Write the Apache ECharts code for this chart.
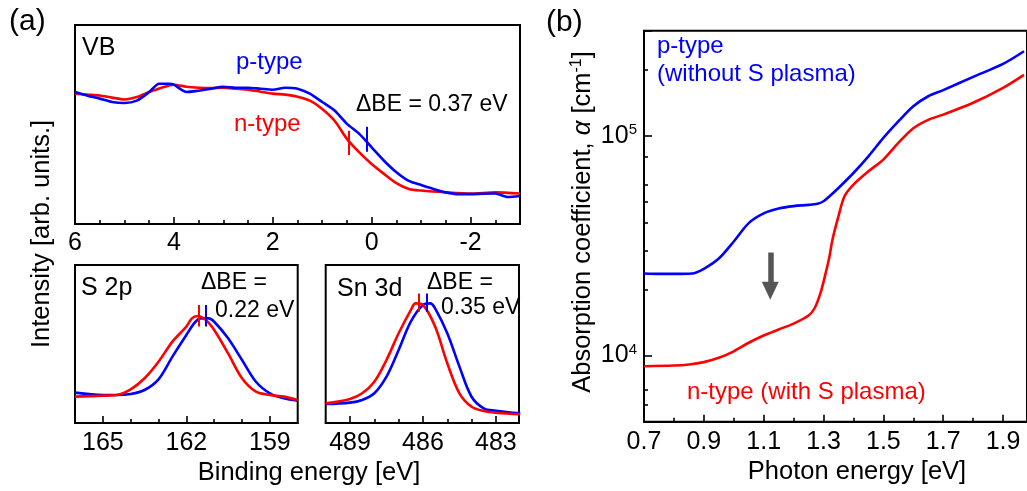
<!DOCTYPE html>
<html><head><meta charset="utf-8">
<script src="https://cdn.jsdelivr.net/npm/echarts@6/dist/echarts.min.js"></script>
<style>html,body{margin:0;padding:0;background:#fff}#c{width:1027px;height:491px}</style>
</head><body><div id="c"></div>
<script>
// ---------- DATA ----------
// (a) VB spectra: binding energy [eV] vs intensity [arb.]
const vbBlueX = [6,5.75,5.5,5.25,5,4.75,4.5,4.3,4.1,4.0,3.85,3.75,3.5,3.25,3.0,2.75,2.5,2.25,2.0,1.75,1.5,1.25,1.0,0.75,0.5,0.25,0,-0.25,-0.5,-0.75,-1.0,-1.25,-1.5,-1.75,-2,-2.25,-2.5,-2.75,-3];
const vbBlueY = [66.3,64.5,63,61.3,60.8,62,66.3,70.5,70.5,70,67.5,66.3,67,68,69,68.5,68.5,68,67.5,68.5,68,65.5,61.3,57,50.3,45.3,38.5,31.8,26,21.7,19.6,17.6,15.9,15,15,15.2,15.3,13.6,14.1];
const vbRedX = [6,5.75,5.5,5.25,5,4.75,4.5,4.25,4.0,3.75,3.5,3.25,3.0,2.75,2.5,2.25,2.0,1.75,1.5,1.25,1.0,0.75,0.5,0.25,0,-0.25,-0.5,-0.75,-1.0,-1.5,-2,-2.5,-3];
const vbRedY = [65.5,65,64.6,63.5,62.6,63.8,66.3,68.5,70,69,68.5,68.3,68.5,68,67.5,66.5,65.5,65,64,62,57.8,51.9,42.8,36,30.2,25.2,20.5,17.6,16.8,15.9,15.3,15.9,15.3];
const vbMarkRed = {x: 0.47, y: [34.7, 46.9]};
const vbMarkBlue = {x: 0.09, y: [36.3, 48.9]};

// S 2p
const s2pBlueX = [166,165,164.5,164,163.5,163,162.5,162,161.7,161.5,161.2,161,160.5,160,159.5,159,158.5,158];
const s2pBlueY = [19.2,17.7,17.7,18.4,20.9,27.6,42,55.7,63.5,66.2,66.2,64.1,53.6,39.9,26.1,18.8,15.6,14.1];
const s2pRedX = [166,165,164.5,164,163.5,163,162.5,162,161.8,161.6,161.3,161,160.5,160,159.5,159,158.5,158];
const s2pRedY = [16.7,17.3,17.7,21.3,28.3,38.8,51.5,61,66.2,67.7,65.2,58.9,44.1,28.3,19.8,17.7,16.7,14.6];
const s2pMarkRed = {x: 161.54, y: [61, 74.7]};
const s2pMarkBlue = {x: 161.32, y: [61, 74.7]};

// Sn 3d
const snBlueX = [490,489,488.5,488,487.5,487,486.5,486,485.7,485.5,485,484.5,484,483.5,483,482];
const snBlueY = [12,12.9,14.6,18.8,29.3,46.2,64.1,74.7,75.7,72.6,56.8,35.7,16.6,9.3,7.8,6.1];
const snRedX = [490,489,488.5,488,487.5,487,486.5,486.3,486,485.5,485,484.5,484,483.5,483,482];
const snRedY = [12.4,15.2,18.8,26.1,39.9,56.8,71.5,75.7,74.7,61,37.8,18.8,10.3,7.6,6.5,5.5];
const snMarkRed = {x: 486.17, y: [70.4, 82]};
const snMarkBlue = {x: 485.85, y: [70.4, 82]};

// (b) absorption coefficient
const absBlueX = [0.7,0.75,0.8,0.86,0.9,0.95,1.0,1.05,1.1,1.15,1.2,1.25,1.28,1.3,1.32,1.35,1.4,1.45,1.5,1.55,1.6,1.65,1.7,1.8,1.9,1.97];
const absBlueY = [23600,23500,23500,23600,24800,27600,33000,40000,44300,46600,47800,48400,49000,50300,53000,57800,67600,80500,97600,116000,136000,151000,161000,185000,212000,242000];
const absRedX = [0.7,0.8,0.85,0.9,0.95,1.0,1.05,1.1,1.15,1.2,1.25,1.27,1.29,1.31,1.32,1.33,1.35,1.37,1.4,1.45,1.5,1.55,1.6,1.65,1.7,1.8,1.9,1.97];
const absRedY = [8940,9000,9100,9330,9760,10450,11430,12330,13130,13970,15200,16400,19270,24600,28300,33700,43000,53000,59900,68800,77800,92600,108000,118000,124600,141000,165000,189000];
const arrow = {x: 1.122, from: 29400, to: 19700};

// tick values
const vbMajor = [6,4,2,0,-2];
const vbMinor = [5.5,5,4.5,3.5,3,2.5,1.5,1,0.5,-0.5,-1,-1.5,-2.5];
const s2pMajor = [165,162,159];
const s2pMinor = [164,163,161,160];
const snMajor = [489,486,483];
const snMinor = [488,487,485,484];
const absXMajor = [0.7,0.9,1.1,1.3,1.5,1.7,1.9];
const absXMinor = [0.8,1.0,1.2,1.4,1.6,1.8];
const absYMinor = [6000,7000,9000,20000,30000,40000,50000,60000,80000,200000];

// ---------- CHART ----------
const FONT = "'Liberation Sans', Arial, sans-serif";
const BLUE = '#0000ff', RED = '#ff0000';
const TICK_FS = 25;
const zip = (xs, ys) => xs.map((x, i) => [x, ys[i]]);

function majorX(gi, min, max, inverse, ticks, margin) {
  return {type:'value', gridIndex:gi, position:'bottom', min, max, inverse,
    axisLine:{show:true, onZero:false, lineStyle:{color:'#000', width:2}},
    axisTick:{show:true, inside:true, length:7, customValues:ticks, lineStyle:{color:'#000', width:1.6}},
    axisLabel:{show:true, customValues:ticks, margin, fontSize:TICK_FS, color:'#000', fontFamily:FONT},
    splitLine:{show:false}};
}
function minorX(gi, min, max, inverse, ticks) {
  return {type:'value', gridIndex:gi, position:'bottom', min, max, inverse,
    axisLine:{show:false, onZero:false},
    axisTick:{show:true, inside:true, length:4, customValues:ticks, lineStyle:{color:'#000', width:1.6}},
    axisLabel:{show:false}, splitLine:{show:false}};
}
function hiddenY(gi) {
  return {type:'value', gridIndex:gi, min:0, max:100, position:'left',
    axisLine:{show:false}, axisTick:{show:false}, axisLabel:{show:false}, splitLine:{show:false}};
}
function curve(name, xi, yi, data, color, smooth) {
  return {name, type:'line', xAxisIndex:xi, yAxisIndex:yi, data, showSymbol:false, symbol:'none',
    smooth: smooth, lineStyle:{color, width:2.6}, itemStyle:{color}, z:3};
}
function marker(m, color) {
  return {silent:true, symbol:'none', label:{show:false}, animation:false,
    lineStyle:{color, width:2, type:'solid'},
    data:[[{coord:[m.x, m.y[0]]}, {coord:[m.x, m.y[1]]}]]};
}

const gridStyle = {show:true, borderColor:'#000', borderWidth:2, backgroundColor:'transparent', containLabel:false};

function txt(text, x, y, color, opts) {
  opts = opts || {};
  return {type:'text', x, y, rotation: opts.rotation || 0, z:10,
    style:{text, fill: color || '#000', font: (opts.size || 24) + 'px ' + FONT,
      align: opts.align || 'left', verticalAlign:'middle', rich: opts.rich}};
}

const option = {
  animation:false,
  backgroundColor:'#fff',
  textStyle:{fontFamily:FONT},
  grid:[
    Object.assign({left:75, top:25, width:445, height:199}, gridStyle),
    Object.assign({left:75, top:265, width:222.7, height:158}, gridStyle),
    Object.assign({left:325.7, top:265, width:193.3, height:158}, gridStyle),
    Object.assign({left:644, top:30.7, width:384, height:391}, gridStyle)
  ],
  xAxis:[
    majorX(0, -3, 6, true, vbMajor, 7),
    minorX(0, -3, 6, true, vbMinor),
    majorX(1, 158, 166, true, s2pMajor, 8),
    minorX(1, 158, 166, true, s2pMinor),
    majorX(2, 482.05, 490, true, snMajor, 8),
    minorX(2, 482.05, 490, true, snMinor),
    majorX(3, 0.7, 1.98, false, absXMajor, 8),
    minorX(3, 0.7, 1.98, false, absXMinor)
  ],
  yAxis:[
    hiddenY(0), hiddenY(1), hiddenY(2),
    {type:'log', logBase:10, gridIndex:3, min:5000, max:300000, position:'left',
      axisLine:{show:false},
      axisTick:{show:true, inside:true, length:8, lineStyle:{color:'#000', width:1.6}},
      axisLabel:{show:true, margin:7, color:'#000', fontFamily:FONT,
        formatter: v => {
          const e = Math.log10(v);
          if (Math.abs(e - Math.round(e)) > 1e-6) return '';
          return '{b|10}{s|' + Math.round(e) + '}';
        },
        rich:{b:{fontSize:TICK_FS, fontFamily:FONT, color:'#000'}, s:{fontSize:15, fontFamily:FONT, color:'#000', verticalAlign:'top', padding:[0,0,12,0]}}},
      splitLine:{show:false}},
    {type:'value', gridIndex:3, position:'left', min:Math.log10(5000), max:Math.log10(300000),
      axisLine:{show:false}, axisLabel:{show:false}, splitLine:{show:false},
      axisTick:{show:true, inside:true, length:4, customValues:absYMinor.map(v => Math.log10(v)), lineStyle:{color:'#000', width:1.6}}}
  ],
  series:[
    Object.assign(curve('VB n-type', 0, 0, zip(vbRedX, vbRedY), RED, 0.25), {markLine: marker(vbMarkRed, RED)}),
    Object.assign(curve('VB p-type', 0, 0, zip(vbBlueX, vbBlueY), BLUE, 0.25), {markLine: marker(vbMarkBlue, BLUE)}),
    Object.assign(curve('S2p p-type', 2, 1, zip(s2pBlueX, s2pBlueY), BLUE, 0.3), {markLine: marker(s2pMarkBlue, BLUE)}),
    Object.assign(curve('S2p n-type', 2, 1, zip(s2pRedX, s2pRedY), RED, 0.3), {markLine: marker(s2pMarkRed, RED)}),
    Object.assign(curve('Sn3d p-type', 4, 2, zip(snBlueX, snBlueY), BLUE, 0.35), {markLine: marker(snMarkBlue, BLUE)}),
    Object.assign(curve('Sn3d n-type', 4, 2, zip(snRedX, snRedY), RED, 0.35), {markLine: marker(snMarkRed, RED)}),
    curve('abs p-type', 6, 3, zip(absBlueX, absBlueY), BLUE, 0.3),
    curve('abs n-type', 6, 3, zip(absRedX, absRedY), RED, 0.3),
    {name:'arrow', type:'line', xAxisIndex:6, yAxisIndex:3, data:[],
      markLine:{silent:true, animation:false, label:{show:false},
        symbol:['none','triangle'], symbolSize:[17,18],
        lineStyle:{color:'#555', width:5.5, type:'solid'}, itemStyle:{color:'#555'},
        data:[[{coord:[arrow.x, arrow.from]}, {coord:[arrow.x, arrow.to]}]]}}
  ],
  graphic:[
    txt('(a)', 9, 22, '#000', {size:30}),
    txt('(b)', 546, 23, '#000', {size:30}),
    txt('VB', 82, 48, '#000', {size:25}),
    txt('p-type', 236, 62, BLUE),
    txt('n-type', 234, 124, RED),
    txt('ΔBE = 0.37 eV', 356, 105, '#000', {size:23}),
    txt('S 2p', 81, 288, '#000', {size:25}),
    txt('ΔBE =', 201, 283, '#000', {size:23}),
    txt('0.22 eV', 215, 311, '#000', {size:23}),
    txt('Sn 3d', 337, 289, '#000', {size:25}),
    txt('ΔBE =', 427, 283, '#000', {size:23}),
    txt('0.35 eV', 441, 308, '#000', {size:23}),
    txt('Binding energy [eV]', 309, 473, '#000', {align:'center', size:25.5}),
    txt('Intensity [arb. units.]', 42, 234, '#000', {align:'center', rotation:Math.PI/2, size:25.5}),
    txt('p-type', 657, 46, BLUE),
    txt('(without S plasma)', 657, 74, BLUE),
    txt('n-type (with S plasma)', 687, 392, RED),
    txt('Photon energy [eV]', 857, 472, '#000', {align:'center', size:25.5}),
    txt('Absorption coefficient, {i|α} [cm{s|-1}]', 583, 222, '#000', {align:'center', rotation:Math.PI/2, size:25.5,
      rich:{i:{fontStyle:'italic', fontSize:25.5, fontFamily:FONT}, s:{fontSize:16, fontFamily:FONT, verticalAlign:'top', padding:[0,0,12,0]}}})
  ]
};

const chart = echarts.init(document.getElementById('c'), null, {renderer:'canvas'});
chart.setOption(option);
</script>
</body></html>
